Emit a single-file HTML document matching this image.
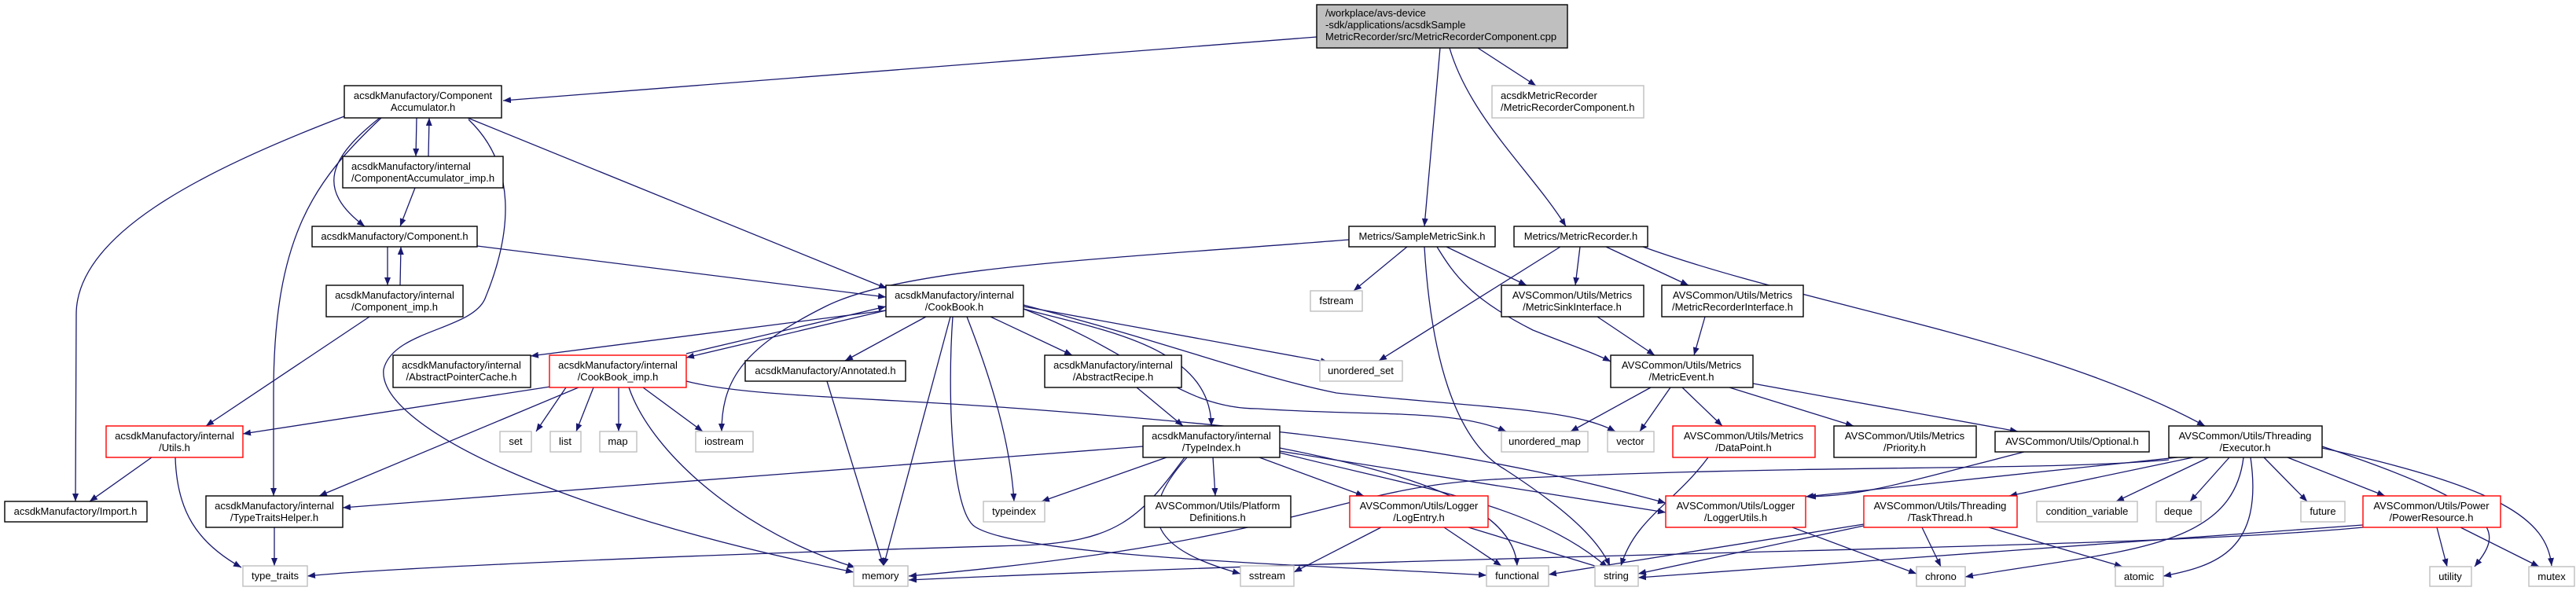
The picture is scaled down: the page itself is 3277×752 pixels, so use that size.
<!DOCTYPE html>
<html><head><meta charset="utf-8"><style>
html,body{margin:0;padding:0;background:#fff;}
svg{display:block;}
text{font-family:"Liberation Sans",sans-serif;font-size:13px;fill:#000;}
.b{fill:#fff;stroke:#000;stroke-width:1.4;}
.g{fill:#fff;stroke:#bfbfbf;stroke-width:1.4;}
.r{fill:#fff;stroke:#ff0000;stroke-width:1.4;}
.e{fill:none;stroke:#191970;stroke-width:1.3;marker-end:url(#a);}
</style></head><body>
<svg width="3277" height="752" viewBox="0 0 3277 752" xmlns="http://www.w3.org/2000/svg">
<defs><marker id="a" markerUnits="userSpaceOnUse" markerWidth="11" markerHeight="8" refX="10" refY="4" orient="auto"><path d="M0,0 L10,4 L0,8 z" fill="#191970"/></marker></defs>
<g>
<path class="e" d="M1675,47 L640,128"/>
<path class="e" d="M1832,61 L1812,288"/>
<path class="e" d="M1844,61 C1870,150 1950,220 1992,288"/>
<path class="e" d="M1880,61 L1954,109"/>
<path class="e" d="M438,148 C250,220 97,300 97,400 L96,638"/>
<path class="e" d="M485,150 C400,230 348,300 348,500 L348,631"/>
<path class="e" d="M530,150 L529,199"/>
<path class="e" d="M545,199 L546,150"/>
<path class="e" d="M483,150 C420,200 400,240 464,288"/>
<path class="e" d="M595,150 L1128,367"/>
<path class="e" d="M596,152 C660,213 650,300 617,380 C600,420 500,420 488,470 C480,540 700,650 1086,728"/>
<path class="e" d="M528,239 L509,288"/>
<path class="e" d="M493,314 L493,363"/>
<path class="e" d="M509,363 L510,314"/>
<path class="e" d="M607,313 L1127,378"/>
<path class="e" d="M470,403 L262,542"/>
<path class="e" d="M193,582 L114,638"/>
<path class="e" d="M223,582 C225,650 250,690 307,722"/>
<path class="e" d="M349,671 L349,720"/>
<path class="e" d="M1127,395 L675,453"/>
<path class="e" d="M1127,395 L873,455"/>
<path class="e" d="M873,450 L1127,390"/>
<path class="e" d="M1178,403 L1075,459"/>
<path class="e" d="M1260,403 L1364,452"/>
<path class="e" d="M1302,393 C1400,420 1540,440 1541,542"/>
<path class="e" d="M1230,403 C1260,480 1285,560 1290,638"/>
<path class="e" d="M1209,403 L1124,720"/>
<path class="e" d="M1212,403 C1205,500 1210,650 1240,670 C1300,710 1700,720 1891,732"/>
<path class="e" d="M1302,390 L1690,461"/>
<path class="e" d="M1302,393 C1450,450 1500,520 1600,520 C1750,530 1850,520 1916,549"/>
<path class="e" d="M1302,388 C1500,440 1600,480 1700,500 C1900,520 2000,520 2055,549"/>
<path class="e" d="M1716,305 C1400,330 1150,340 1050,390 C950,440 918,480 918,549"/>
<path class="e" d="M700,492 L309,552"/>
<path class="e" d="M720,493 L682,549"/>
<path class="e" d="M755,493 L733,549"/>
<path class="e" d="M787,493 L787,549"/>
<path class="e" d="M818,493 L894,549"/>
<path class="e" d="M736,493 L406,631"/>
<path class="e" d="M800,493 C830,580 950,680 1088,722"/>
<path class="e" d="M873,485 C950,505 1100,505 1300,520 C1700,550 1900,580 2119,640"/>
<path class="e" d="M1052,485 L1124,720"/>
<path class="e" d="M1446,493 L1505,542"/>
<path class="e" d="M1454,568 L436,646"/>
<path class="e" d="M1484,582 L1325,638"/>
<path class="e" d="M1543,582 L1546,631"/>
<path class="e" d="M1602,582 L1735,631"/>
<path class="e" d="M1628,574 L2119,652"/>
<path class="e" d="M1510,582 C1440,660 1470,700 1578,730"/>
<path class="e" d="M1628,570 C1780,600 1925,640 1930,720"/>
<path class="e" d="M1628,576 C1800,620 1950,640 2045,722"/>
<path class="e" d="M1507,582 C1450,660 1420,690 1300,694 C900,705 500,722 391,733"/>
<path class="e" d="M1757,671 L1646,728"/>
<path class="e" d="M1837,671 L1910,720"/>
<path class="e" d="M1868,671 L2045,725"/>
<path class="e" d="M1790,314 L1722,370"/>
<path class="e" d="M1812,314 C1820,450 1850,560 1914,597 C1980,640 2030,680 2048,720"/>
<path class="e" d="M1828,314 C1850,350 1871,380 1950,420 C2000,440 2030,450 2049,460"/>
<path class="e" d="M1840,314 L1942,363"/>
<path class="e" d="M1985,314 L1754,459"/>
<path class="e" d="M2010,314 L2004,363"/>
<path class="e" d="M2043,314 L2148,363"/>
<path class="e" d="M2090,314 C2300,390 2600,430 2805,542"/>
<path class="e" d="M2032,403 L2105,452"/>
<path class="e" d="M2169,403 L2155,452"/>
<path class="e" d="M2100,493 L1998,549"/>
<path class="e" d="M2125,493 L2086,549"/>
<path class="e" d="M2140,493 L2191,542"/>
<path class="e" d="M2200,493 L2358,542"/>
<path class="e" d="M2230,488 L2567,549"/>
<path class="e" d="M2173,582 C2130,640 2080,660 2062,720"/>
<path class="e" d="M2575,575 C2400,620 2370,630 2300,632"/>
<path class="e" d="M2280,671 L2438,730"/>
<path class="e" d="M2759,585 C2600,600 2300,590 1900,610 C1700,620 1650,690 1156,733"/>
<path class="e" d="M2770,582 L2297,632"/>
<path class="e" d="M2790,582 L2556,631"/>
<path class="e" d="M2810,582 L2692,638"/>
<path class="e" d="M2836,582 L2786,638"/>
<path class="e" d="M2880,582 L2935,638"/>
<path class="e" d="M2910,582 L3034,631"/>
<path class="e" d="M2854,582 C2840,700 2700,700 2500,734"/>
<path class="e" d="M2863,582 C2880,700 2820,720 2752,733"/>
<path class="e" d="M2954,568 C3200,650 3180,680 3148,721"/>
<path class="e" d="M2954,570 C3180,620 3240,660 3246,720"/>
<path class="e" d="M2371,667 L1970,731"/>
<path class="e" d="M2371,669 L2084,730"/>
<path class="e" d="M2445,671 L2469,721"/>
<path class="e" d="M2530,671 L2700,721"/>
<path class="e" d="M3006,668 L2084,735"/>
<path class="e" d="M3006,671 C2700,700 2000,700 1156,738"/>
<path class="e" d="M3100,671 L3113,721"/>
<path class="e" d="M3130,671 L3230,721"/>
</g>
<g>
<rect x="1675" y="6" width="319" height="55" fill="#bfbfbf" stroke="#000" stroke-width="1.4"/>
<text x="1686" y="21">/workplace/avs-device</text><text x="1686" y="36">-sdk/applications/acsdkSample</text><text x="1686" y="51">MetricRecorder/src/MetricRecorderComponent.cpp</text>

<rect class="b" x="438" y="109" width="200" height="41"/><text x="538" y="126" text-anchor="middle">acsdkManufactory/Component</text><text x="538" y="141" text-anchor="middle">Accumulator.h</text>
<rect class="g" x="1898" y="109" width="193" height="41"/><text x="1909" y="126">acsdkMetricRecorder</text><text x="1909" y="141">/MetricRecorderComponent.h</text>
<rect class="b" x="436" y="199" width="204" height="40"/><text x="447" y="216">acsdkManufactory/internal</text><text x="447" y="231">/ComponentAccumulator_imp.h</text>
<rect class="b" x="397" y="288" width="210" height="26"/><text x="502" y="305" text-anchor="middle">acsdkManufactory/Component.h</text>
<rect class="b" x="1716" y="288" width="186" height="26"/><text x="1809" y="305" text-anchor="middle">Metrics/SampleMetricSink.h</text>
<rect class="b" x="1926" y="288" width="170" height="26"/><text x="2011" y="305" text-anchor="middle">Metrics/MetricRecorder.h</text>
<rect class="b" x="415" y="363" width="174" height="40"/><text x="502" y="380" text-anchor="middle">acsdkManufactory/internal</text><text x="502" y="395" text-anchor="middle">/Component_imp.h</text>
<rect class="b" x="1127" y="363" width="175" height="40"/><text x="1214" y="380" text-anchor="middle">acsdkManufactory/internal</text><text x="1214" y="395" text-anchor="middle">/CookBook.h</text>
<rect class="g" x="1667" y="370" width="66" height="26"/><text x="1700" y="387" text-anchor="middle">fstream</text>
<rect class="b" x="1910" y="363" width="181" height="40"/><text x="2000" y="380" text-anchor="middle">AVSCommon/Utils/Metrics</text><text x="2000" y="395" text-anchor="middle">/MetricSinkInterface.h</text>
<rect class="b" x="2114" y="363" width="180" height="40"/><text x="2204" y="380" text-anchor="middle">AVSCommon/Utils/Metrics</text><text x="2204" y="395" text-anchor="middle">/MetricRecorderInterface.h</text>

<rect class="b" x="500" y="452" width="175" height="41"/><text x="587" y="469" text-anchor="middle">acsdkManufactory/internal</text><text x="587" y="484" text-anchor="middle">/AbstractPointerCache.h</text>
<rect class="r" x="699" y="452" width="174" height="41"/><text x="786" y="469" text-anchor="middle">acsdkManufactory/internal</text><text x="786" y="484" text-anchor="middle">/CookBook_imp.h</text>
<rect class="b" x="948" y="459" width="204" height="26"/><text x="1050" y="476" text-anchor="middle">acsdkManufactory/Annotated.h</text>
<rect class="b" x="1329" y="452" width="174" height="41"/><text x="1416" y="469" text-anchor="middle">acsdkManufactory/internal</text><text x="1416" y="484" text-anchor="middle">/AbstractRecipe.h</text>
<rect class="g" x="1679" y="459" width="105" height="26"/><text x="1731" y="476" text-anchor="middle">unordered_set</text>
<rect class="b" x="2049" y="452" width="181" height="41"/><text x="2139" y="469" text-anchor="middle">AVSCommon/Utils/Metrics</text><text x="2139" y="484" text-anchor="middle">/MetricEvent.h</text>

<rect class="r" x="135" y="542" width="174" height="40"/><text x="222" y="559" text-anchor="middle">acsdkManufactory/internal</text><text x="222" y="574" text-anchor="middle">/Utils.h</text>
<rect class="g" x="636" y="549" width="40" height="26"/><text x="656" y="566" text-anchor="middle">set</text>
<rect class="g" x="700" y="549" width="39" height="26"/><text x="719" y="566" text-anchor="middle">list</text>
<rect class="g" x="763" y="549" width="47" height="26"/><text x="786" y="566" text-anchor="middle">map</text>
<rect class="g" x="885" y="549" width="73" height="26"/><text x="921" y="566" text-anchor="middle">iostream</text>
<rect class="b" x="1454" y="542" width="174" height="40"/><text x="1541" y="559" text-anchor="middle">acsdkManufactory/internal</text><text x="1541" y="574" text-anchor="middle">/TypeIndex.h</text>
<rect class="g" x="1910" y="549" width="110" height="26"/><text x="1965" y="566" text-anchor="middle">unordered_map</text>
<rect class="g" x="2045" y="549" width="59" height="26"/><text x="2074" y="566" text-anchor="middle">vector</text>
<rect class="r" x="2128" y="542" width="181" height="40"/><text x="2218" y="559" text-anchor="middle">AVSCommon/Utils/Metrics</text><text x="2218" y="574" text-anchor="middle">/DataPoint.h</text>
<rect class="b" x="2333" y="542" width="181" height="40"/><text x="2423" y="559" text-anchor="middle">AVSCommon/Utils/Metrics</text><text x="2423" y="574" text-anchor="middle">/Priority.h</text>
<rect class="b" x="2538" y="549" width="196" height="26"/><text x="2636" y="566" text-anchor="middle">AVSCommon/Utils/Optional.h</text>
<rect class="b" x="2759" y="542" width="195" height="40"/><text x="2856" y="559" text-anchor="middle">AVSCommon/Utils/Threading</text><text x="2856" y="574" text-anchor="middle">/Executor.h</text>

<rect class="b" x="6" y="638" width="181" height="26"/><text x="96" y="655" text-anchor="middle">acsdkManufactory/Import.h</text>
<rect class="b" x="262" y="631" width="174" height="40"/><text x="349" y="648" text-anchor="middle">acsdkManufactory/internal</text><text x="349" y="663" text-anchor="middle">/TypeTraitsHelper.h</text>
<rect class="g" x="1251" y="638" width="78" height="26"/><text x="1290" y="655" text-anchor="middle">typeindex</text>
<rect class="b" x="1456" y="631" width="186" height="40"/><text x="1549" y="648" text-anchor="middle">AVSCommon/Utils/Platform</text><text x="1549" y="663" text-anchor="middle">Definitions.h</text>
<rect class="r" x="1717" y="631" width="176" height="40"/><text x="1805" y="648" text-anchor="middle">AVSCommon/Utils/Logger</text><text x="1805" y="663" text-anchor="middle">/LogEntry.h</text>
<rect class="r" x="2119" y="631" width="178" height="40"/><text x="2208" y="648" text-anchor="middle">AVSCommon/Utils/Logger</text><text x="2208" y="663" text-anchor="middle">/LoggerUtils.h</text>
<rect class="r" x="2371" y="631" width="195" height="40"/><text x="2468" y="648" text-anchor="middle">AVSCommon/Utils/Threading</text><text x="2468" y="663" text-anchor="middle">/TaskThread.h</text>
<rect class="g" x="2591" y="638" width="128" height="26"/><text x="2655" y="655" text-anchor="middle">condition_variable</text>
<rect class="g" x="2743" y="638" width="57" height="26"/><text x="2771" y="655" text-anchor="middle">deque</text>
<rect class="g" x="2927" y="638" width="56" height="26"/><text x="2955" y="655" text-anchor="middle">future</text>
<rect class="r" x="3006" y="631" width="175" height="40"/><text x="3093" y="648" text-anchor="middle">AVSCommon/Utils/Power</text><text x="3093" y="663" text-anchor="middle">/PowerResource.h</text>

<rect class="g" x="309" y="720" width="82" height="26"/><text x="350" y="737" text-anchor="middle">type_traits</text>
<rect class="g" x="1086" y="720" width="69" height="26"/><text x="1120" y="737" text-anchor="middle">memory</text>
<rect class="g" x="1578" y="720" width="68" height="26"/><text x="1612" y="737" text-anchor="middle">sstream</text>
<rect class="g" x="1891" y="720" width="79" height="26"/><text x="1930" y="737" text-anchor="middle">functional</text>
<rect class="g" x="2029" y="720" width="55" height="26"/><text x="2056" y="737" text-anchor="middle">string</text>
<rect class="g" x="2438" y="721" width="62" height="25"/><text x="2469" y="738" text-anchor="middle">chrono</text>
<rect class="g" x="2691" y="721" width="61" height="25"/><text x="2721" y="738" text-anchor="middle">atomic</text>
<rect class="g" x="3091" y="721" width="53" height="25"/><text x="3117" y="738" text-anchor="middle">utility</text>
<rect class="g" x="3217" y="721" width="58" height="25"/><text x="3246" y="738" text-anchor="middle">mutex</text>
</g>
</svg>
</body></html>
